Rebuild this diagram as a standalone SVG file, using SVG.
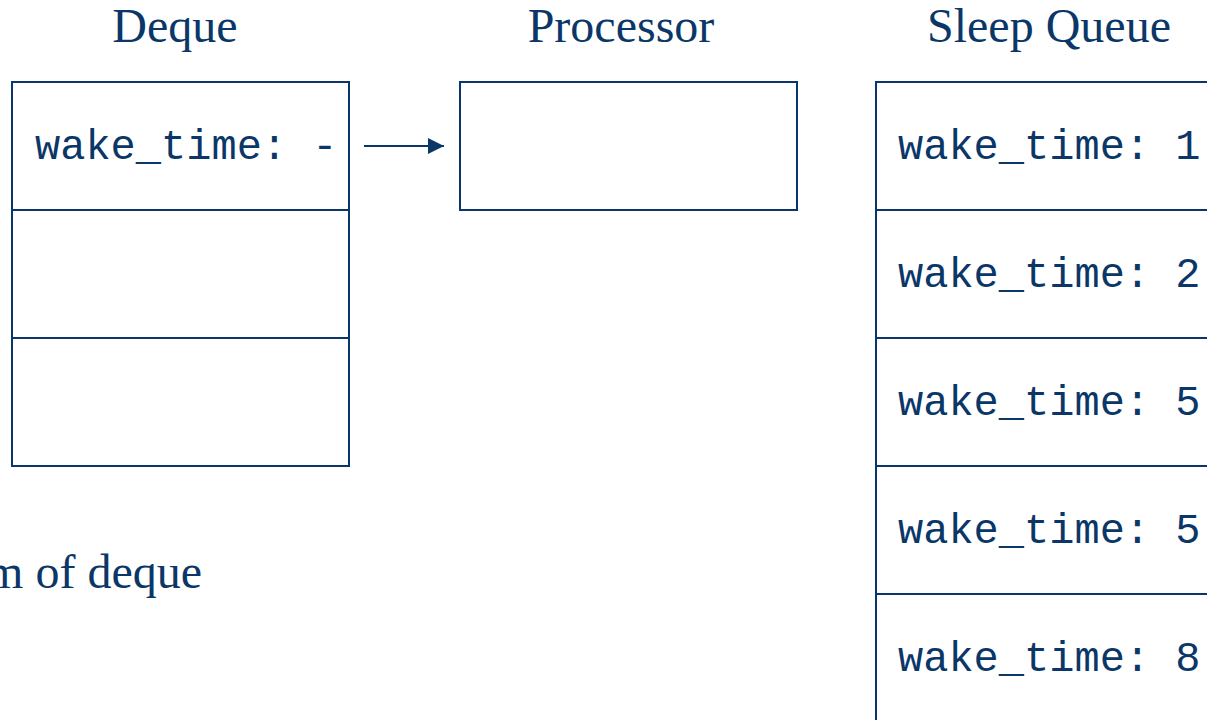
<svg xmlns="http://www.w3.org/2000/svg" width="1207" height="720" viewBox="0 0 1207 720">
  <style>
    .box { fill: #ffffff; stroke: #0b3768; stroke-width: 2; }
    .title { font-family: "Liberation Serif", "Times New Roman", serif; font-size: 48px; fill: #0b3768; text-anchor: middle; }
    .note { font-family: "Liberation Serif", "Times New Roman", serif; font-size: 48px; fill: #0b3768; }
    .mono { font-family: "Liberation Mono", "Courier New", monospace; font-size: 42px; fill: #0b3768; }
    .conn { stroke: #0b3768; stroke-width: 2; fill: none; }
  </style>
  <defs>
    <marker id="arrow" markerWidth="8" markerHeight="8" refX="8" refY="4" orient="auto" markerUnits="strokeWidth">
      <path d="M0,0 L8,4 L0,8 Z" fill="#0b3768"/>
    </marker>
  </defs>

  <rect width="1207" height="720" fill="#ffffff"/>

  <!-- Deque -->
  <g id="deque">
    <text class="title" x="175" y="42">Deque</text>
    <rect class="box" x="12" y="82" width="337" height="128"/>
    <rect class="box" x="12" y="210" width="337" height="128"/>
    <rect class="box" x="12" y="338" width="337" height="128"/>
    <text class="mono" x="35" y="159">wake_time: -</text>
  </g>

  <!-- Processor -->
  <g id="processor">
    <text class="title" x="621" y="42">Processor</text>
    <rect class="box" x="460" y="82" width="337" height="128"/>
  </g>

  <!-- Sleep Queue -->
  <g id="sleep-queue">
    <text class="title" x="1049" y="42">Sleep Queue</text>
    <rect class="box" x="876" y="82" width="340" height="128"/>
    <rect class="box" x="876" y="210" width="340" height="128"/>
    <rect class="box" x="876" y="338" width="340" height="128"/>
    <rect class="box" x="876" y="466" width="340" height="128"/>
    <rect class="box" x="876" y="594" width="340" height="140"/>
    <text class="mono" x="898" y="159">wake_time: 1</text>
    <text class="mono" x="898" y="287">wake_time: 2</text>
    <text class="mono" x="898" y="415">wake_time: 5</text>
    <text class="mono" x="898" y="543">wake_time: 5</text>
    <text class="mono" x="898" y="671">wake_time: 8</text>
  </g>

  <!-- Label -->
  <g id="deque-note">
    <text class="note" x="202" y="588" text-anchor="end">m of deque</text>
  </g>

  <!-- Connectors -->
  <g id="connectors">
    <line class="conn" x1="364" y1="146" x2="444" y2="146" marker-end="url(#arrow)"/>
  </g>
</svg>
